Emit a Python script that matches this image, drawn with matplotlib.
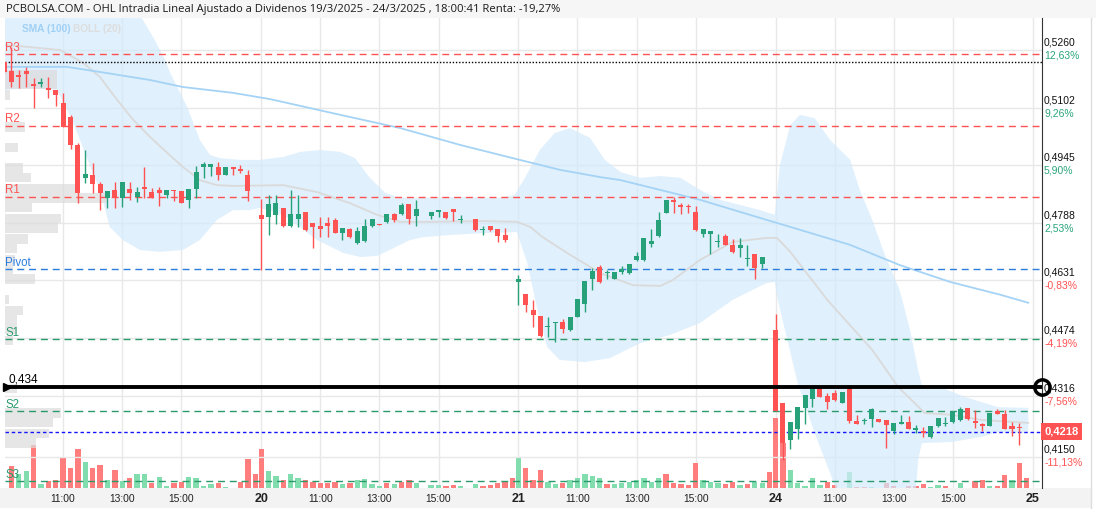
import matplotlib
matplotlib.use("Agg")
import matplotlib.pyplot as plt
import matplotlib.transforms as mtransforms
from matplotlib.patches import Rectangle

title = ("PCBOLSA.COM - OHL Intradia Lineal Ajustado a Dividenos 19/3/2025 - 24/3/2025 , "
         "18:00:41 Renta: -19,27%")

day_names = ["20", "21", "24", "25"]
day_len = 34.8          # 15 min slots per session (09:00 - 17:40)
hour_slots = [8, 16, 24]
hour_names = ["11:00", "13:00", "15:00"]

# ---- 15 min candles ----
slots_19 = list(range(34))
open_19 = [0.5227, 0.5204, 0.5192, 0.5204, 0.5167, 0.5168, 0.5157, 0.5152, 0.5116, 0.5077, 0.5001, 0.4911,
           0.4919, 0.4894, 0.4857, 0.4878, 0.4857, 0.4880, 0.4860, 0.4886, 0.4872, 0.4878, 0.4864, 0.4878,
           0.4875, 0.4851, 0.4881, 0.4941, 0.4941, 0.4941, 0.4919, 0.4941, 0.4935, 0.4919]
high_19 = [0.5230, 0.5268, 0.5205, 0.5214, 0.5184, 0.5184, 0.5186, 0.5152, 0.5142, 0.5083, 0.5005, 0.4987,
           0.4951, 0.4901, 0.4875, 0.4901, 0.4900, 0.4901, 0.4887, 0.4941, 0.4884, 0.4887, 0.4878, 0.4878,
           0.4875, 0.4881, 0.4943, 0.4953, 0.4949, 0.4953, 0.4941, 0.4941, 0.4946, 0.4932]
low_19 = [0.5197, 0.5159, 0.5156, 0.5159, 0.5102, 0.5160, 0.5130, 0.5107, 0.5051, 0.4989, 0.4841, 0.4896,
          0.4869, 0.4823, 0.4828, 0.4829, 0.4832, 0.4851, 0.4846, 0.4855, 0.4855, 0.4835, 0.4855, 0.4849,
          0.4843, 0.4829, 0.4857, 0.4911, 0.4917, 0.4905, 0.4919, 0.4919, 0.4925, 0.4849]
close_19 = [0.5200, 0.5174, 0.5186, 0.5194, 0.5163, 0.5174, 0.5152, 0.5138, 0.5051, 0.5001, 0.4869, 0.4921,
            0.4895, 0.4871, 0.4875, 0.4857, 0.4900, 0.4870, 0.4872, 0.4881, 0.4860, 0.4870, 0.4878, 0.4875,
            0.4843, 0.4881, 0.4927, 0.4949, 0.4949, 0.4919, 0.4941, 0.4935, 0.4931, 0.4875]

slots_20 = list(range(22)) + [23, 24, 25, 26, 27, 29, 30, 31, 32, 33]
open_20 = [0.4810, 0.4805, 0.4810, 0.4829, 0.4780, 0.4799, 0.4818, 0.4789, 0.4780, 0.4787, 0.4796, 0.4760,
           0.4771, 0.4732, 0.4739, 0.4780, 0.4786, 0.4790, 0.4812, 0.4812, 0.4840, 0.4808, 0.4808, 0.4819,
           0.4818, 0.4826, 0.4797, 0.4798, 0.4768, 0.4780, 0.4771, 0.4755]
high_20 = [0.4852, 0.4864, 0.4864, 0.4829, 0.4878, 0.4864, 0.4818, 0.4789, 0.4803, 0.4805, 0.4801, 0.4774,
           0.4775, 0.4778, 0.4798, 0.4798, 0.4786, 0.4812, 0.4814, 0.4842, 0.4840, 0.4851, 0.4818, 0.4822,
           0.4818, 0.4826, 0.4809, 0.4798, 0.4780, 0.4780, 0.4771, 0.4773]
low_20 = [0.4659, 0.4755, 0.4785, 0.4776, 0.4778, 0.4776, 0.4767, 0.4719, 0.4750, 0.4749, 0.4760, 0.4741,
          0.4746, 0.4730, 0.4737, 0.4778, 0.4783, 0.4787, 0.4791, 0.4809, 0.4784, 0.4780, 0.4798, 0.4805,
          0.4799, 0.4794, 0.4787, 0.4767, 0.4755, 0.4767, 0.4737, 0.4737]
close_20 = [0.4799, 0.4840, 0.4843, 0.4780, 0.4812, 0.4812, 0.4769, 0.4778, 0.4772, 0.4780, 0.4761, 0.4774,
            0.4750, 0.4766, 0.4780, 0.4798, 0.4783, 0.4812, 0.4796, 0.4837, 0.4799, 0.4826, 0.4818, 0.4822,
            0.4802, 0.4819, 0.4799, 0.4769, 0.4769, 0.4769, 0.4753, 0.4740]

slots_21 = list(range(34))
open_21 = [0.4628, 0.4594, 0.4550, 0.4534, 0.4504, 0.4514, 0.4517, 0.4496, 0.4532, 0.4566, 0.4634, 0.4667,
           0.4651, 0.4636, 0.4655, 0.4650, 0.4687, 0.4687, 0.4730, 0.4752, 0.4816, 0.4851, 0.4837, 0.4835,
           0.4818, 0.4758, 0.4758, 0.4736, 0.4752, 0.4727, 0.4719, 0.4689, 0.4703, 0.4676]
high_21 = [0.4646, 0.4594, 0.4578, 0.4534, 0.4532, 0.4518, 0.4526, 0.4532, 0.4580, 0.4629, 0.4666, 0.4672,
           0.4659, 0.4654, 0.4670, 0.4676, 0.4709, 0.4747, 0.4771, 0.4817, 0.4851, 0.4858, 0.4843, 0.4840,
           0.4834, 0.4771, 0.4766, 0.4758, 0.4758, 0.4743, 0.4746, 0.4727, 0.4703, 0.4695]
low_21 = [0.4564, 0.4546, 0.4505, 0.4477, 0.4477, 0.4464, 0.4488, 0.4494, 0.4530, 0.4545, 0.4605, 0.4625,
          0.4635, 0.4634, 0.4648, 0.4648, 0.4685, 0.4685, 0.4723, 0.4750, 0.4814, 0.4816, 0.4812, 0.4816,
          0.4767, 0.4749, 0.4703, 0.4723, 0.4727, 0.4705, 0.4696, 0.4669, 0.4634, 0.4664]
close_21 = [0.4635, 0.4564, 0.4537, 0.4479, 0.4507, 0.4518, 0.4498, 0.4532, 0.4580, 0.4629, 0.4657, 0.4628,
            0.4654, 0.4654, 0.4662, 0.4676, 0.4698, 0.4747, 0.4739, 0.4796, 0.4851, 0.4846, 0.4831, 0.4832,
            0.4769, 0.4771, 0.4766, 0.4738, 0.4728, 0.4709, 0.4727, 0.4693, 0.4666, 0.4695]

slots_24 = list(range(34))
open_24 = [0.4496, 0.4296, 0.4195, 0.4226, 0.4284, 0.4306, 0.4336, 0.4316, 0.4325, 0.4297, 0.4336, 0.4247,
           0.4246, 0.4252, 0.4253, 0.4250, 0.4219, 0.4240, 0.4244, 0.4224, 0.4220, 0.4203, 0.4234, 0.4240,
           0.4245, 0.4250, 0.4282, 0.4247, 0.4238, 0.4234, 0.4274, 0.4266, 0.4234, 0.4229]
high_24 = [0.4539, 0.4296, 0.4244, 0.4285, 0.4318, 0.4345, 0.4336, 0.4325, 0.4333, 0.4326, 0.4336, 0.4264,
           0.4255, 0.4282, 0.4253, 0.4250, 0.4241, 0.4264, 0.4261, 0.4235, 0.4232, 0.4234, 0.4255, 0.4257,
           0.4272, 0.4285, 0.4282, 0.4277, 0.4243, 0.4268, 0.4279, 0.4277, 0.4245, 0.4243]
low_24 = [0.4275, 0.4141, 0.4172, 0.4197, 0.4239, 0.4286, 0.4313, 0.4281, 0.4303, 0.4296, 0.4243, 0.4238,
          0.4239, 0.4230, 0.4245, 0.4173, 0.4212, 0.4240, 0.4225, 0.4214, 0.4203, 0.4200, 0.4232, 0.4234,
          0.4243, 0.4248, 0.4250, 0.4227, 0.4221, 0.4233, 0.4265, 0.4225, 0.4206, 0.4181]
close_24 = [0.4275, 0.4188, 0.4244, 0.4285, 0.4318, 0.4336, 0.4314, 0.4298, 0.4305, 0.4326, 0.4248, 0.4240,
            0.4247, 0.4280, 0.4245, 0.4237, 0.4241, 0.4244, 0.4226, 0.4225, 0.4214, 0.4234, 0.4255, 0.4242,
            0.4272, 0.4279, 0.4253, 0.4242, 0.4234, 0.4268, 0.4266, 0.4226, 0.4226, 0.4227]

# ---- volume (slot 34 = closing auction), r = down, g = up ----
vol_19 = [0, 22, 14, 17, 43, 4, 7, 8, 30, 20, 39, 26, 20, 23, 8, 18, 7, 10, 14, 14, 5, 11, 2, 5, 6, 11,
          10, 2, 4, 5, 1, 0, 6, 29, 14]
vcol_19 = "rrggrgrrrrrgrrgrgrggrggrrggggrgrrrr"
vol_20 = [39, 17, 12, 8, 14, 10, 8, 6, 5, 5, 6, 4, 5, 8, 9, 4, 2, 5, 4, 6, 8, 5, 0, 3, 3, 2, 3, 2, 0, 4,
          2, 3, 5, 6, 10]
vcol_20 = "rggrggrrrrrgrggggrgrrggggrrgrgrrrrr"
vol_21 = [31, 20, 8, 18, 6, 4, 5, 8, 10, 14, 12, 10, 4, 4, 5, 6, 8, 10, 6, 10, 14, 5, 4, 3, 25, 8, 6, 5,
          4, 6, 3, 4, 6, 5, 16]
vcol_21 = "grrrggrgggggrgggggggrrrrrgggrrgrggr"
vol_24 = [70, 45, 18, 5, 2, 10, 3, 6, 3, 0, 16, 1, 1, 1, 0, 5, 2, 0, 2, 2, 4, 1, 3, 2, 0, 5, 0, 7, 8, 2,
          2, 13, 8, 25, 10]
vcol_24 = "rrgggggrrggrrggrrgrrrggrggrrrgrrgrr"

# ---- indicators (x in slots) ----
boll_x = [0.1, 7.6, 13.0, 17.1, 18.8, 20.4, 21.8, 22.5, 24.8, 26.5, 27.9, 29.2, 31.9, 34.6, 37.8, 40.1,
          42.8, 45.5, 47.5, 49.5, 51.6, 53.6, 57.6, 61.7, 67.1, 69.1, 70.5, 72.5, 74.5, 76.6, 79.3, 81.3,
          83.4, 86.1, 88.8, 91.5, 94.2, 96.9, 99.6, 102.3, 104.3, 105.0, 106.4, 107.7, 109.7, 111.8, 114.5,
          115.8, 117.5, 119.2, 121.2, 122.6, 123.7, 124.2, 126.7, 130.0, 134.5, 138.6]
boll_upper = [0.5478, 0.5478, 0.5451, 0.5397, 0.5342, 0.5287, 0.5233, 0.5197, 0.5104, 0.5014, 0.4973,
              0.4965, 0.4960, 0.4960, 0.4968, 0.4982, 0.4987, 0.4982, 0.4965, 0.4911, 0.4870, 0.4856, 0.4856,
              0.4859, 0.4856, 0.4864, 0.4911, 0.4987, 0.5033, 0.5047, 0.5020, 0.4960, 0.4927, 0.4911, 0.4916,
              0.4911, 0.4878, 0.4851, 0.4837, 0.4823, 0.4810, 0.4946, 0.5055, 0.5083, 0.5074, 0.5014, 0.4960,
              0.4878, 0.4796, 0.4700, 0.4605, 0.4496, 0.4386, 0.4345, 0.4340, 0.4313, 0.4285, 0.4283]
lower_x = [0.1, 3.5, 7.2, 9.2, 10.3, 12.0, 13.0, 14.3, 16.1, 18.4, 21.1, 24.2, 26.5, 28.8, 31.0, 33.3,
           34.6, 37.8, 42.4, 45.9, 48.2, 50.5, 52.2, 54.9, 56.7, 60.4, 64.8, 69.4, 70.8, 71.6, 72.5, 73.5,
           75.2, 78.6, 82.0, 86.1, 90.1, 94.2, 98.6, 103.2, 104.3, 104.7, 107.4, 109.7, 112.0, 113.1,
           117.2, 121.2, 123.3, 123.7, 124.2, 128.3, 132.3, 134.5, 138.6]
boll_lower = [0.5151, 0.5156, 0.5151, 0.5069, 0.5014, 0.4924, 0.4878, 0.4777, 0.4741, 0.4714, 0.4709,
              0.4714, 0.4741, 0.4796, 0.4823, 0.4823, 0.4829, 0.4810, 0.4741, 0.4706, 0.4695, 0.4698, 0.4714,
              0.4741, 0.4749, 0.4755, 0.4760, 0.4763, 0.4679, 0.4605, 0.4523, 0.4449, 0.4414, 0.4408, 0.4419,
              0.4460, 0.4482, 0.4515, 0.4578, 0.4624, 0.4627, 0.4578, 0.4351, 0.4214, 0.4094, 0.4031, 0.3922,
              0.3950, 0.4031, 0.4141, 0.4187, 0.4190, 0.4204, 0.4217, 0.4214]
mid_x = [0.1, 3.5, 7.6, 10.7, 13.0, 15.3, 17.5, 19.8, 22.1, 24.2, 26.5, 28.8, 31.0, 37.8, 42.4, 46.8,
         50.5, 53.6, 58.1, 64.8, 69.4, 71.2, 72.9, 76.2, 80.7, 85.1, 88.8, 90.5, 94.2, 98.6, 103.2, 104.6,
         106.4, 111.4, 114.2, 117.5, 121.0, 124.6, 128.3, 132.3, 138.6]
boll_mid = [0.5274, 0.5268, 0.5260, 0.5225, 0.5186, 0.5124, 0.5069, 0.5022, 0.4979, 0.4941, 0.4905, 0.4891,
            0.4889, 0.4891, 0.4872, 0.4842, 0.4810, 0.4791, 0.4791, 0.4793, 0.4791, 0.4777, 0.4749, 0.4706,
            0.4651, 0.4618, 0.4616, 0.4632, 0.4687, 0.4736, 0.4747, 0.4747, 0.4709, 0.4578, 0.4515, 0.4441,
            0.4340, 0.4269, 0.4264, 0.4250, 0.4242]
sma_x = [0.1, 8.5, 13.0, 19.8, 24.2, 31.0, 36.0, 45.5, 53.6, 61.7, 69.8, 75.2, 80.7, 83.4, 88.8, 94.2,
         99.6, 106.4, 114.5, 121.2, 128.0, 134.8, 138.6]
sma_100 = [0.5214, 0.5214, 0.5200, 0.5178, 0.5159, 0.5143, 0.5126, 0.5083, 0.5047, 0.5001, 0.4960, 0.4933,
           0.4913, 0.4905, 0.4878, 0.4851, 0.4818, 0.4777, 0.4728, 0.4673, 0.4627, 0.4592, 0.4570]

# ---- volume profile (price bin, volume) ----
profile_price = [0.5192, 0.5165, 0.5137, 0.5050, 0.4995, 0.4938, 0.4911, 0.4883, 0.4856, 0.4829, 0.4801,
                 0.4774, 0.4744, 0.4717, 0.4689, 0.4662, 0.4635, 0.4578, 0.4550, 0.4523, 0.4496, 0.4468,
                 0.4337, 0.4269, 0.4242, 0.4214, 0.4187]
profile_vol = [52, 52, 5, 20, 13, 18, 26, 70, 102, 27, 56, 53, 23, 12, 10, 8, 30, 4, 18, 12, 12, 8, 12,
               56, 48, 44, 31]

# ---- levels ----
pivot_names = ["R3", "R2", "R1", "Pivot", "S1", "S2", "S3"]
pivot_values = [0.5249, 0.5053, 0.4859, 0.4662, 0.4471, 0.4274, 0.4083]
tick_prices = [0.5260, 0.5102, 0.4945, 0.4788, 0.4631, 0.4474, 0.4316, 0.4150]
tick_labels = ["0,5260", "0,5102", "0,4945", "0,4788", "0,4631", "0,4474", "0,4316", "0,4150"]
tick_pcts = ["12,63%", "9,26%", "5,90%", "2,53%", "-0,83%", "-4,19%", "-7,56%", "-11,13%"]
ref_open = 0.5227
alert_level = 0.434
last_price = 0.4218

RED = "#ff5252"
GREEN = "#26a17a"
VRED = "#ff7d7d"
VGREEN = "#82ddae"

fig = plt.figure(figsize=(10.96, 5.12), dpi=100)
W, H = 1096, 512
L, R, T, B = 5, 1042, 18, 488
axv = fig.add_axes([L / W, 1 - B / H, (R - L) / W, (B - T) / H])
ax = axv.twinx()

# header and footer strips
fig.patches.append(Rectangle((0, 1 - T / H), 1, T / H, transform=fig.transFigure,
                             facecolor="#f6f6f6", edgecolor="none", zorder=-5))
fig.patches.append(Rectangle((0, 4 / H), 1091 / W, 20 / H, transform=fig.transFigure,
                             facecolor="#f3f3f3", edgecolor="none", zorder=-5))
fig.lines.append(plt.Line2D([1091 / W, 1091 / W], [4 / H, 1 - T / H], transform=fig.transFigure,
                            color="#dddddd", lw=1))
fig.text(6 / W, 1 - 9.5 / H, title, fontsize=8.1, family="Open Sans", color="#1a1a1a",
         va="center", ha="left")

# vertical grid
for d in range(4):
    for s in hour_slots:
        axv.axvline(d * day_len + s, color="#e8e8e8", lw=1, zorder=0)
for d in range(1, 5):
    axv.axvline(d * day_len, color="#e8e8e8", lw=1, zorder=0)

# volume
vols = [(0, vol_19, vcol_19), (1, vol_20, vcol_20), (2, vol_21, vcol_21), (3, vol_24, vcol_24)]
for d, v, c in vols:
    xs = [d * day_len + k for k in range(len(v))]
    axv.bar(xs, v, width=0.72, color=[VRED if ch == "r" else VGREEN for ch in c], zorder=2, lw=0)

# horizontal grid + right labels
ytr = mtransforms.blended_transform_factory(ax.transAxes, ax.transData)
for p, lab, pct in zip(tick_prices, tick_labels, tick_pcts):
    ax.axhline(p, color="#e8e8e8", lw=1, zorder=0)
    ax.text(1.002, p, lab, transform=mtransforms.offset_copy(ytr, fig, y=2.5, units="dots"),
            va="bottom", ha="left", fontsize=7.5, family="Liberation Sans", color="#111111")
    ax.text(1.002, p, pct, transform=mtransforms.offset_copy(ytr, fig, y=-0.5, units="dots"),
            va="top", ha="left", fontsize=7.5, family="Liberation Sans",
            color=RED if pct.startswith("-") else "#2aa57a")

# bollinger + sma
ax.fill(boll_x + lower_x[::-1], boll_upper + boll_lower[::-1], color="#d3eafb", alpha=0.7,
        lw=0, zorder=1)
ax.plot(mid_x, boll_mid, color="#dadada", lw=1.3, zorder=1.6)
ax.plot(sma_x, sma_100, color="#a5d3f6", lw=1.3, zorder=1.7)

# volume profile
prof_tr = mtransforms.blended_transform_factory(
    mtransforms.Affine2D().scale(1 / (R - L), 1) + ax.transAxes, ax.transData)
ax.barh(profile_price, profile_vol, height=0.0025, left=0, color="#dcdcdc", alpha=0.7,
        transform=prof_tr, zorder=1.5, lw=0)

# pivot levels
pcolors = [RED, RED, RED, "#2d7ddf", "#2a9a6c", "#2a9a6c", "#2a9a6c"]
for name, p, c in zip(pivot_names, pivot_values, pcolors):
    ax.axhline(p, color=c, lw=1, ls=(0, (5, 3.5)), zorder=2.5)
    ax.text(0.0, p, name, transform=mtransforms.offset_copy(ytr, fig, y=0.5, units="dots"),
            va="bottom", ha="left", fontsize=8.3, family="Liberation Sans", color=c, zorder=2.6)

ax.axhline(ref_open, color="black", lw=1, ls=(0, (1, 1.3)), zorder=2.5)
ax.axhline(last_price, color="#1515ff", lw=1, ls=(0, (2.5, 2)), zorder=2.5)

# candles
days = [(0, slots_19, open_19, high_19, low_19, close_19),
        (1, slots_20, open_20, high_20, low_20, close_20),
        (2, slots_21, open_21, high_21, low_21, close_21),
        (3, slots_24, open_24, high_24, low_24, close_24)]
for d, sl, o, h, l, c in days:
    xs = [d * day_len + s for s in sl]
    cols = [GREEN if cc >= oo else RED for oo, cc in zip(o, c)]
    ax.vlines(xs, l, h, colors=cols, lw=1, zorder=3)
    bottoms = [min(oo, cc) for oo, cc in zip(o, c)]
    heights = [max(abs(cc - oo), 0.0003) for oo, cc in zip(o, c)]
    ax.bar(xs, heights, bottom=bottoms, width=0.68, color=cols, lw=0, zorder=3.5)

# alert line at 0,434
ax.axhline(alert_level, color="black", lw=2.8, zorder=5)
ax.text(0.003, alert_level, "0,434", transform=mtransforms.offset_copy(ytr, fig, y=2, units="dots"),
        va="bottom", ha="left", fontsize=8.5, family="Liberation Sans", color="black", zorder=6)
ax.plot([0.4], [alert_level], marker=">", ms=6, color="black", clip_on=False, zorder=6)
ax.plot([140.46], [alert_level], marker="o", ms=11, mfc="none", mec="black", mew=2.5,
        clip_on=False, zorder=6)

# last price tag
ax.text(1.002, last_price, "0,4218", transform=ytr, va="center", ha="left", fontsize=8,
        fontweight="bold", family="Liberation Sans", color="white", zorder=7,
        bbox=dict(boxstyle="square,pad=0.3", fc="#ff5252", ec="none"))

# legend text
ax.text(17 / (R - L), 1 - 11 / (B - T), "SMA (100)", transform=ax.transAxes, fontsize=7.3,
        fontweight="bold", family="Liberation Sans", color="#9fd0f5", va="center")
ax.text(68 / (R - L), 1 - 11 / (B - T), "BOLL (20)", transform=ax.transAxes, fontsize=7.3,
        fontweight="bold", family="Liberation Sans", color="#dddddd", va="center")

# x labels
xtr = mtransforms.offset_copy(mtransforms.blended_transform_factory(axv.transData, axv.transAxes),
                              fig, y=-11, units="dots")
for d in range(4):
    for s, name in zip(hour_slots, hour_names):
        axv.text(d * day_len + s, 0, name, transform=xtr, ha="center", va="center", fontsize=7.4,
                 family="Liberation Sans", color="#222222")
for d, name in enumerate(day_names, start=1):
    axv.text(d * day_len, 0, name, transform=xtr, ha="center", va="center", fontsize=9,
             fontweight="bold", family="Liberation Sans", color="#222222")

for a in (ax, axv):
    for sp in a.spines.values():
        sp.set_visible(False)
    a.set_yticks([])
ax.spines["right"].set_visible(True)
ax.spines["right"].set_color("#333333")
axv.set_xticks([])
axv.set_xlim(0.135, 140.46)
axv.set_ylim(0, B - T)
ax.set_ylim(0.40643, 0.53474)

fig.savefig("out.png", dpi=100)
